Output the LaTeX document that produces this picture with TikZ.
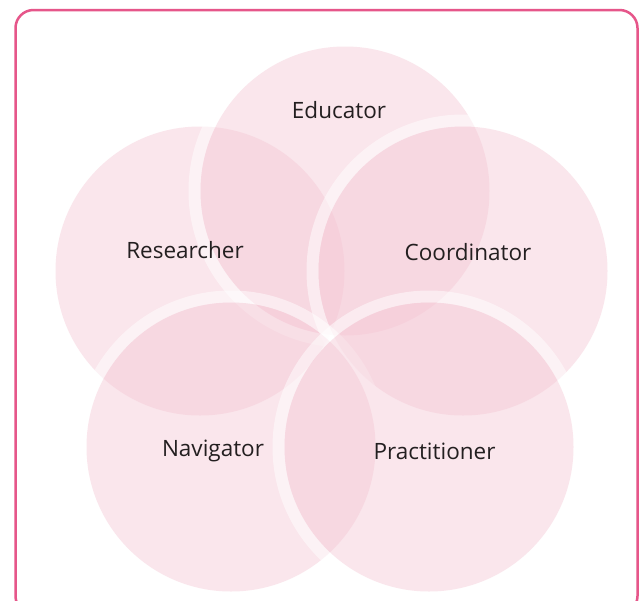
\documentclass[tikz,border=0pt]{standalone}
\usepackage{fontspec}
\setmainfont{Open Sans}[Ligatures=NoCommon]
\definecolor{petal}{RGB}{245,200,213}
\definecolor{frame}{RGB}{230,86,138}
\definecolor{ink}{RGB}{35,31,32}
\tikzset{
  ring/.style={draw=white, draw opacity=0.5, line width=12pt},
  petalfill/.style={fill=petal, fill opacity=0.45},
  lbl/.style={text=ink, font=\fontsize{22.5}{26}\selectfont, anchor=base, inner sep=0pt},
  framebox/.style={draw=frame, line width=2.5pt, rounded corners=18pt}
}
\begin{document}
\begin{tikzpicture}[x=1pt,y=-1pt]
\useasboundingbox (0,0) rectangle (640,600);
\clip (0,0) rectangle (640,600);
\fill[white] (0,0) rectangle (640,600);
% circles in drawing order: ring first, then fill
\foreach \cx/\cy in {200/271, 345/191, 463/271, 231/447, 429/447}{
  \draw[ring] (\cx,\cy) circle[radius=150.5];
  \fill[petalfill] (\cx,\cy) circle[radius=144.5];
}
\node[lbl] (educator) at (339,118.3) {Educator};
\node[lbl] (researcher) at (185,258.3) {Researcher};
\node[lbl] (coordinator) at (468,260) {Coordinator};
\node[lbl] (navigator) at (213,456.7) {Navigator};
\node[lbl] (practitioner) at (434.5,459.3) {Practitioner};
\draw[framebox] (15.5,10) rectangle (637.5,614);
\end{tikzpicture}
\end{document}
